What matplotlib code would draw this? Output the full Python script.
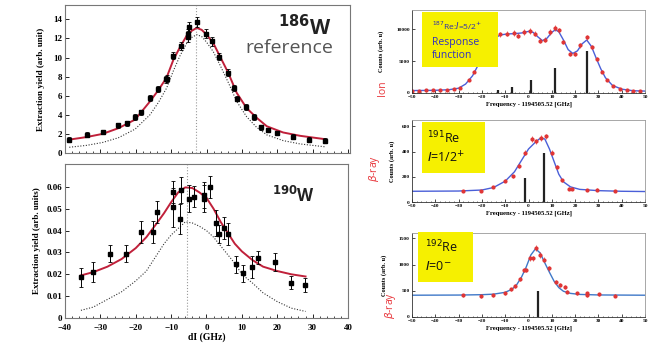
import matplotlib.pyplot as plt
from matplotlib.patches import Rectangle

# ---- left panels: extraction yield vs detuning ----
w186_x = [-38.8, -33.9, -29.4, -24.9, -22.4, -20.2, -18.4, -16.0, -13.6, -11.5, -11.1, -9.4, -7.3,
          -5.2, -5.2, -4.9, -2.8, -0.2, 1.4, 3.6, 6.1, 7.8, 8.7, 11.1, 13.4, 15.5, 17.4, 19.8, 24.3, 29.0, 33.4]
w186_y = [1.4, 1.9, 2.2, 2.9, 3.1, 3.8, 4.25, 5.75, 6.7, 7.7, 7.8, 10.2, 11.2,
          12.2, 12.5, 13.2, 13.7, 12.5, 11.7, 10.1, 8.4, 6.8, 5.7, 4.8, 3.8, 2.7, 2.4, 2.1, 1.7, 1.4, 1.3]
w186_err = [0.25, 0.25, 0.25, 0.25, 0.25, 0.3, 0.3, 0.3, 0.3, 0.35, 0.35, 0.4, 0.4,
            0.6, 0.5, 0.5, 0.5, 0.45, 0.45, 0.4, 0.35, 0.35, 0.3, 0.3, 0.3, 0.25, 0.25, 0.25, 0.25, 0.25, 0.25]
w186_fit_x = [-38.8, -33.9, -29.4, -24.9, -20.2, -16.0, -13.6, -11.3, -9.4, -7.5, -5.6, -4.2, -2.8,
              -1.4, 0.0, 1.9, 3.8, 6.1, 8.5, 11.3, 14.1, 17.0, 21.6, 26.4, 33.4]
w186_fit_y = [1.4, 1.67, 2.0, 2.6, 3.5, 5.4, 6.6, 7.9, 9.75, 11.1, 12.3, 12.8, 13.1,
              12.9, 12.4, 11.5, 10.1, 8.4, 6.3, 4.7, 3.7, 2.8, 2.15, 1.8, 1.45]
w186_ref_y = [0.6, 0.8, 1.1, 1.6, 2.5, 4.0, 5.3, 6.8, 8.6, 10.2, 11.5, 12.1, 12.4,
              12.2, 11.6, 10.6, 9.2, 7.4, 5.4, 3.8, 2.7, 1.9, 1.3, 0.95, 0.65]
w186_center = -3.0

w190_x = [-35.5, -32.0, -27.3, -22.8, -18.5, -15.2, -13.9, -9.4, -9.4, -7.5, -7.2, -4.9, -3.5, -0.8,
          -0.8, 0.9, 2.6, 3.6, 5.0, 6.1, 8.3, 10.2, 12.9, 14.6, 19.3, 24.0, 27.8]
w190_y = [0.0186, 0.0212, 0.0295, 0.0295, 0.0393, 0.0393, 0.0484, 0.0506, 0.0577, 0.0453, 0.0585,
          0.0547, 0.0556, 0.0564, 0.0547, 0.060, 0.0434, 0.0385, 0.0413, 0.0385, 0.0246, 0.0204,
          0.0234, 0.0275, 0.0257, 0.0162, 0.0151]
w190_err = [0.0045, 0.0045, 0.004, 0.004, 0.005, 0.005, 0.005, 0.009, 0.005, 0.007, 0.006, 0.006,
            0.005, 0.006, 0.006, 0.005, 0.006, 0.004, 0.005, 0.005, 0.004, 0.004, 0.005, 0.003,
            0.004, 0.003, 0.003]
w190_fit_x = [-35.5, -32, -28, -24, -20, -17, -14, -12, -10, -8, -6, -4, -2, 0, 2, 4, 6, 8, 10, 13, 16, 20, 24, 28]
w190_fit_y = [0.0195, 0.021, 0.0235, 0.027, 0.032, 0.037, 0.0435, 0.048, 0.053, 0.0575, 0.0598, 0.0595,
              0.0575, 0.055, 0.050, 0.044, 0.039, 0.034, 0.0305, 0.0265, 0.0235, 0.0215, 0.020, 0.019]
w190_ref_y = [0.0035, 0.005, 0.0085, 0.012, 0.017, 0.0215, 0.029, 0.034, 0.038, 0.041, 0.044, 0.0435,
              0.042, 0.040, 0.037, 0.033, 0.029, 0.025, 0.020, 0.016, 0.0115, 0.0075, 0.0045, 0.003]
w190_center = -5.5

# ---- right panels: Re hyperfine spectra ----
re187_x = [-50, -47, -44, -41, -38, -35, -32, -29.3, -25.7, -23.6, -20.7, -17.9, -15, -12.1, -9.3, -6.4,
           -4.3, -1.9, 0.7, 2.9, 5, 7.1, 9.3, 11.4, 12.9, 15, 17.9, 20, 22.1, 25, 27.1, 29.3,
           31.4, 33.6, 36.4, 39.3, 42.1, 45, 47.9]
re187_y = [350, 380, 400, 420, 440, 480, 560, 830, 2000, 3300, 5360, 7450, 8500, 9200, 9300, 9400,
           9000, 9530, 9700, 9270, 8200, 8330, 9530, 10200, 9800, 7970, 6150, 6150, 7450, 8750, 7190, 5360,
           3300, 2000, 1040, 625, 420, 310, 310]
re187_fit_x = [-50, -40, -34, -30, -27, -24, -21, -18, -15, -12, -9, -6, -3, 0, 2, 4, 6, 8, 10, 11.5,
               13, 15, 17, 19, 21, 23, 25, 27, 29, 31, 33, 36, 40, 45, 50]
re187_fit_y = [380, 420, 520, 750, 1400, 2700, 4800, 7200, 8500, 9100, 9250, 9300, 9400, 9650, 9500,
               8800, 8200, 8600, 9500, 9900, 9600, 8300, 6800, 6200, 6600, 7700, 8300, 7300, 5500, 3800,
               2400, 1200, 600, 350, 300]
re187_lines_x = [-13.3, -7.2, 0.9, 11.5, 25.2]
re187_lines_h = [400, 890, 2030, 3860, 6600]

re191_x = [-28.3, -20.5, -15.2, -10.3, -6.7, -4.2, -1.5, 1.3, 3.2, 5.3, 7.7, 9.9, 12.1, 14.5, 17.4,
           18.8, 24.9, 29.4, 37.2]
re191_y = [88, 88, 120, 168, 205, 285, 392, 499, 480, 507, 520, 392, 280, 173, 107, 107, 93, 99, 85]
re191_fit_x = [-50, -30, -20, -15, -10, -6, -3, 0, 3, 5, 7, 9, 11, 13, 15, 18, 22, 30, 40, 50]
re191_fit_y = [85, 87, 95, 115, 165, 240, 330, 420, 475, 505, 500, 420, 320, 220, 160, 120, 100, 90, 85, 83]
re191_lines_x = [-1.5, 6.5]
re191_lines_h = [187, 392]

re192_x = [-28.3, -20.5, -15.2, -10.3, -7.7, -6.0, -3.6, -1.8, -1.1, 0.8, 1.8, 3.2, 5.0, 6.5, 8.9,
           11.7, 13.5, 15.5, 16.4, 20.9, 24.9, 25.2, 30.1, 37.2]
re192_y = [416, 397, 416, 448, 525, 589, 717, 896, 896, 1120, 1120, 1312, 1184, 1088, 928,
           672, 608, 576, 480, 448, 448, 416, 435, 403]
re192_fit_x = [-50, -30, -20, -15, -10, -7, -5, -3, -1, 1, 3, 5, 7, 9, 11, 13, 15, 18, 22, 30, 50]
re192_fit_y = [415, 418, 425, 435, 470, 530, 620, 760, 950, 1180, 1300, 1220, 1030, 850, 680, 560,
               490, 450, 430, 420, 415]
re192_lines_x = [3.9]
re192_lines_h = [500]

serif = 'Liberation Serif'
sans = 'Open Sans'

fig = plt.figure(figsize=(6.54, 3.47), dpi=100)


def style_left(ax, xpad=2):
    for s in ax.spines.values():
        s.set_color('#777777')
        s.set_linewidth(0.8)
    ax.tick_params(direction='in', length=3, width=0.6, labelsize=6.5, pad=2)
    ax.tick_params(axis='x', pad=xpad)
    ax.tick_params(which='minor', direction='in', length=1.5, width=0.5)
    for lab in ax.get_xticklabels() + ax.get_yticklabels():
        lab.set_fontfamily(serif)
        lab.set_fontweight('bold')


# top left: 186W
ax1 = fig.add_axes([65 / 654, 1 - 153 / 347, 285 / 654, 148 / 347])
ax1.plot(w186_fit_x, w186_ref_y, color='#333333', ls=(0, (1, 1.5)), lw=0.8)
ax1.plot(w186_fit_x, w186_fit_y, color='#c0203a', lw=1.4)
ax1.axvline(w186_center, color='#999999', ls=':', lw=0.8)
ax1.errorbar(w186_x, w186_y, yerr=w186_err, fmt='s', color='black', ms=3.4,
             elinewidth=0.7, capsize=1.2, capthick=0.6)
ax1.set_xlim(-40, 40.5)
ax1.set_ylim(0, 15.5)
ax1.set_xticks(range(-40, 41, 10))
ax1.set_xticks(range(-40, 41, 2), minor=True)
ax1.set_yticks(range(0, 15, 2))
ax1.set_xticklabels([])
style_left(ax1)
ax1.set_ylabel('Extraction yield (arb. unit)', fontfamily=serif, fontweight='bold', fontsize=6.5, labelpad=6)
ax1.text(0.935, 0.93, r'$^{\mathbf{186}}$W', transform=ax1.transAxes, ha='right', va='top',
         fontfamily=sans, fontweight='bold', fontsize=15, color='#222222')
ax1.text(0.94, 0.71, 'reference', transform=ax1.transAxes, ha='right', va='center',
         fontfamily=sans, fontsize=14, color='#555555')

# bottom left: 190W
ax2 = fig.add_axes([65 / 654, 1 - 318 / 347, 283 / 654, 154 / 347])
ax2.plot(w190_fit_x, w190_ref_y, color='#333333', ls=(0, (1, 1.5)), lw=0.8)
ax2.plot(w190_fit_x, w190_fit_y, color='#c0203a', lw=1.4)
ax2.axvline(w190_center, color='#999999', ls=':', lw=0.8)
ax2.errorbar(w190_x, w190_y, yerr=w190_err, fmt='s', color='black', ms=3.4,
             elinewidth=0.7, capsize=1.2, capthick=0.6)
ax2.set_xlim(-40, 40)
ax2.set_ylim(0, 0.0705)
ax2.set_xticks(range(-40, 41, 10))
ax2.set_xticks(range(-40, 41, 2), minor=True)
ax2.set_yticks([0, 0.01, 0.02, 0.03, 0.04, 0.05, 0.06])
ax2.set_yticklabels(['0', '0.01', '0.02', '0.03', '0.04', '0.05', '0.06'])
style_left(ax2, xpad=4.5)
ax2.set_ylabel('Extraction yield (arb. units)', fontfamily=serif, fontweight='bold', fontsize=6.5, labelpad=4)
ax2.set_xlabel('dI (GHz)', fontfamily=serif, fontweight='bold', fontsize=7, labelpad=0)
ax2.text(0.885, 0.86, r'$^{\mathbf{190}}$W', transform=ax2.transAxes, ha='right', va='top',
         fontfamily=sans, fontweight='bold', fontsize=12, color='#222222')


def right_panel(rect, px, py, fx, fy, lx, lh, ylim, yticks, dot_color, curve_color,
                side_label, box, ypad):
    ax = fig.add_axes(rect)
    ax.vlines(lx, 0, lh, color='#222222', lw=1.6)
    ax.plot(fx, fy, color=curve_color, lw=1.0)
    ax.errorbar(px, py, yerr=[v * 0.03 + ylim[1] * 0.01 for v in py], fmt='o', color=dot_color,
                ms=2.0, elinewidth=0.5, capsize=0)
    ax.set_xlim(-50, 50)
    ax.set_ylim(*ylim)
    ax.set_xticks(range(-50, 51, 10))
    ax.set_xticks(range(-50, 51, 2), minor=True)
    ax.set_yticks(yticks)
    ax.tick_params(direction='in', length=2, width=0.5, labelsize=3.8, pad=1.5)
    ax.tick_params(which='minor', direction='in', length=1, width=0.4)
    for lab in ax.get_xticklabels() + ax.get_yticklabels():
        lab.set_fontfamily(serif)
        lab.set_fontweight('bold')
    for s in ['left', 'bottom']:
        ax.spines[s].set_color('#333333')
        ax.spines[s].set_linewidth(0.6)
    for s in ['top', 'right']:
        ax.spines[s].set_color('#999999')
        ax.spines[s].set_linewidth(0.6)
    ax.set_xlabel('Frequency - 1194505.52 [GHz]', fontfamily=serif, fontweight='bold', fontsize=4.8, labelpad=2)
    ax.set_ylabel('Counts (arb. u)', fontfamily=serif, fontweight='bold', fontsize=4.6, labelpad=ypad)
    x0, y0, x1, y1 = box
    fig.patches.append(Rectangle((x0 / 654, 1 - y1 / 347), (x1 - x0) / 654, (y1 - y0) / 347,
                                 transform=fig.transFigure, facecolor='#f6f000', edgecolor='none', zorder=5))
    fig.text(side_label[1] / 654, 1 - side_label[2] / 347, side_label[0], rotation=90, color='#e8383d',
             fontfamily=sans, fontsize=7.5, ha='center', va='center')
    return ax


right_panel([412 / 654, 1 - 93 / 347, 233 / 654, 83 / 347], re187_x, re187_y, re187_fit_x, re187_fit_y,
            re187_lines_x, re187_lines_h, (0, 13000), [0, 5000, 10000], '#e03535', '#4a5fd8',
            ('Ion', 383, 88), (422, 12, 498, 67), 9)
right_panel([412 / 654, 1 - 202 / 347, 233 / 654, 82 / 347], re191_x, re191_y, re191_fit_x, re191_fit_y,
            re191_lines_x, re191_lines_h, (0, 650), [0, 200, 400, 600], '#e03535', '#4a5fd8',
            (r'$\beta$-ray', 375, 168), (422, 122, 485, 173), 5)
right_panel([412 / 654, 1 - 317 / 347, 233 / 654, 84 / 347], re192_x, re192_y, re192_fit_x, re192_fit_y,
            re192_lines_x, re192_lines_h, (0, 1600), [0, 500, 1000, 1500], '#e03535', '#3f78c8',
            (r'$\beta$-ray', 390, 305), (418, 232, 473, 282), 9)

# labels inside the yellow boxes
fig.text(432 / 654, 1 - 26 / 347, r'$^{187}$Re:$I$=5/2$^{+}$', fontfamily=sans, fontsize=6,
         color='#2a2ab0', va='center', zorder=6)
fig.text(432 / 654, 1 - 42 / 347, 'Response', fontfamily=sans, fontsize=7.5, color='#3030c0',
         va='center', zorder=6)
fig.text(432 / 654, 1 - 56 / 347, 'function', fontfamily=sans, fontsize=7.5, color='#3030c0',
         va='center', zorder=6)
fig.text(427 / 654, 1 - 138 / 347, r'$^{191}$Re', fontfamily=sans, fontsize=9, color='#111111',
         va='center', zorder=6)
fig.text(427 / 654, 1 - 158 / 347, r'$I$=1/2$^{+}$', fontfamily=sans, fontsize=9, color='#111111',
         va='center', zorder=6)
fig.text(425 / 654, 1 - 247 / 347, r'$^{192}$Re', fontfamily=sans, fontsize=9, color='#111111',
         va='center', zorder=6)
fig.text(425 / 654, 1 - 266 / 347, r'$I$=0$^{-}$', fontfamily=sans, fontsize=9, color='#111111',
         va='center', zorder=6)

fig.savefig('out.png', dpi=100)
